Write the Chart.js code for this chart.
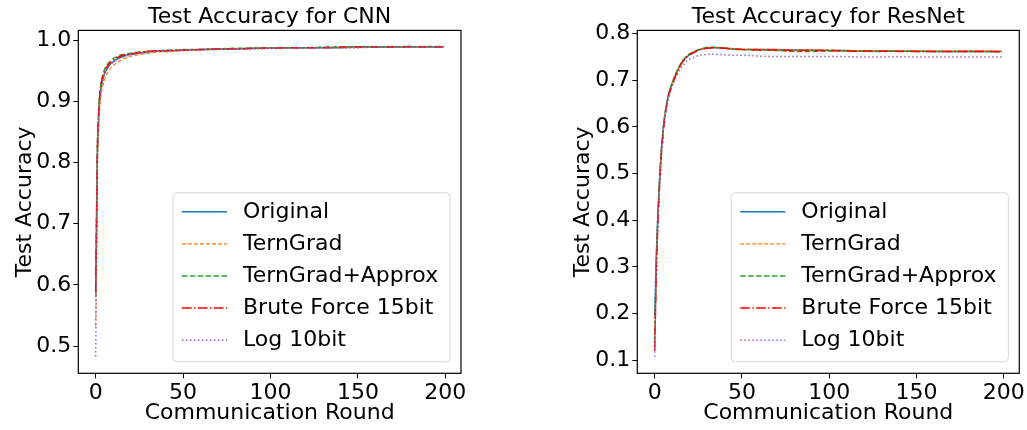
<!DOCTYPE html>
<html>
<head>
<meta charset="utf-8">
<script src="https://cdn.jsdelivr.net/npm/chart.js@4.4.1/dist/chart.umd.min.js"></script>
<style>
  html, body { margin: 0; padding: 0; background: #fff; }
  #wrap { position: relative; width: 1027px; height: 430px; }
  canvas { position: absolute; top: 0; }
  #cnnChart { left: 0; }
  #resnetChart { left: 513px; }
</style>
</head>
<body>
<div id="wrap">
  <canvas id="cnnChart" width="513" height="430"></canvas>
  <canvas id="resnetChart" width="514" height="430"></canvas>
</div>
<script>
const rounds = [0, 1, 2, 3, 4, 5, 6, 7, 8, 9, 10, 12, 14, 16, 18, 20, 25, 30, 35, 40, 45, 50,
    60, 70, 80, 90, 100, 110, 120, 130, 140, 150, 160, 170, 180, 190, 199];

const seriesNames = ['Original', 'TernGrad', 'TernGrad+Approx', 'Brute Force 15bit', 'Log 10bit'];

// CNN test accuracy
const cnnOriginal = [0.580, 0.820, 0.895, 0.922, 0.936, 0.945, 0.951, 0.956, 0.960, 0.963, 0.965, 0.969, 0.972, 0.974, 0.976, 0.977, 0.979, 0.981, 0.982, 0.983, 0.983, 0.984, 0.985, 0.986, 0.986, 0.987, 0.987, 0.988, 0.988, 0.988, 0.988, 0.989, 0.989, 0.989, 0.989, 0.989, 0.989];
const cnnTernGrad = [0.532, 0.800, 0.880, 0.910, 0.925, 0.935, 0.942, 0.948, 0.952, 0.956, 0.959, 0.963, 0.967, 0.970, 0.972, 0.974, 0.977, 0.979, 0.981, 0.981, 0.982, 0.983, 0.984, 0.985, 0.986, 0.986, 0.987, 0.987, 0.988, 0.988, 0.988, 0.988, 0.989, 0.989, 0.989, 0.989, 0.990];
const cnnApprox = [0.600, 0.840, 0.905, 0.930, 0.943, 0.952, 0.958, 0.962, 0.965, 0.968, 0.970, 0.973, 0.976, 0.977, 0.978, 0.979, 0.981, 0.982, 0.983, 0.984, 0.984, 0.985, 0.985, 0.986, 0.987, 0.987, 0.988, 0.988, 0.988, 0.989, 0.989, 0.989, 0.989, 0.990, 0.989, 0.990, 0.990];
const cnnBrute = [0.590, 0.830, 0.900, 0.927, 0.940, 0.948, 0.955, 0.959, 0.962, 0.965, 0.967, 0.971, 0.974, 0.976, 0.977, 0.978, 0.980, 0.982, 0.983, 0.983, 0.984, 0.984, 0.985, 0.986, 0.986, 0.987, 0.987, 0.988, 0.988, 0.988, 0.989, 0.989, 0.989, 0.989, 0.990, 0.989, 0.989];
const cnnLog = [0.483, 0.810, 0.890, 0.918, 0.933, 0.943, 0.950, 0.955, 0.959, 0.962, 0.964, 0.968, 0.971, 0.973, 0.975, 0.977, 0.979, 0.981, 0.982, 0.982, 0.983, 0.984, 0.985, 0.985, 0.986, 0.986, 0.987, 0.987, 0.988, 0.988, 0.988, 0.988, 0.989, 0.989, 0.989, 0.989, 0.989];

// ResNet test accuracy
const resOriginal = [0.190, 0.330, 0.430, 0.500, 0.560, 0.600, 0.630, 0.652, 0.670, 0.682, 0.693, 0.712, 0.728, 0.740, 0.749, 0.755, 0.765, 0.770, 0.770, 0.769, 0.768, 0.767, 0.766, 0.766, 0.765, 0.765, 0.764, 0.764, 0.763, 0.763, 0.763, 0.763, 0.762, 0.762, 0.762, 0.762, 0.762];
const resTernGrad = [0.150, 0.310, 0.420, 0.495, 0.555, 0.598, 0.628, 0.650, 0.668, 0.681, 0.692, 0.711, 0.727, 0.740, 0.750, 0.756, 0.766, 0.770, 0.771, 0.770, 0.768, 0.767, 0.767, 0.766, 0.765, 0.766, 0.765, 0.764, 0.764, 0.764, 0.763, 0.764, 0.763, 0.763, 0.764, 0.763, 0.763];
const resApprox = [0.140, 0.320, 0.425, 0.498, 0.558, 0.600, 0.631, 0.653, 0.671, 0.684, 0.695, 0.714, 0.730, 0.742, 0.751, 0.757, 0.766, 0.771, 0.771, 0.769, 0.767, 0.766, 0.765, 0.764, 0.762, 0.762, 0.763, 0.763, 0.762, 0.762, 0.763, 0.762, 0.762, 0.762, 0.762, 0.762, 0.762];
const resBrute = [0.120, 0.300, 0.410, 0.490, 0.550, 0.594, 0.625, 0.648, 0.667, 0.680, 0.691, 0.710, 0.727, 0.740, 0.749, 0.755, 0.765, 0.769, 0.770, 0.769, 0.767, 0.766, 0.765, 0.765, 0.764, 0.764, 0.764, 0.763, 0.763, 0.763, 0.762, 0.762, 0.762, 0.762, 0.762, 0.762, 0.761];
const resLog = [0.107, 0.310, 0.415, 0.490, 0.550, 0.594, 0.624, 0.646, 0.664, 0.676, 0.686, 0.704, 0.720, 0.731, 0.740, 0.746, 0.753, 0.756, 0.756, 0.755, 0.754, 0.754, 0.752, 0.751, 0.751, 0.751, 0.751, 0.751, 0.750, 0.750, 0.751, 0.750, 0.750, 0.750, 0.750, 0.750, 0.750];

// Tick labels
const xTicks = [0, 50, 100, 150, 200];
const cnnTicks = [0.5, 0.6, 0.7, 0.8, 0.9, 1.0];
const resTicks = [0.1, 0.2, 0.3, 0.4, 0.5, 0.6, 0.7, 0.8];

// Line styles (matplotlib look)
const seriesColors = ['#1f77b4', '#ff7f0e', '#2ca02c', '#ff0000', '#9467bd'];
const seriesDashes = [[], [4, 2], [5.5, 2.4], [9.6, 2.4, 1.5, 2.4], [1.5, 2.5]];
const seriesWidths = [1.5, 1.2, 1.5, 1.5, 1.5];

Chart.defaults.font.family = 'DejaVu Sans';
Chart.defaults.font.size = 22;
Chart.defaults.color = '#000';

// Black box round the plot area
const framePlugin = {
    id: 'frame',
    afterDatasetsDraw(chart) {
        const { ctx, chartArea: a } = chart;
        ctx.save();
        ctx.strokeStyle = '#000';
        ctx.lineWidth = 1.2;
        ctx.strokeRect(a.left, a.top, a.width, a.height);
        ctx.restore();
    }
};

// Legend box in the lower right corner of the plot
const legendPlugin = {
    id: 'boxLegend',
    afterDraw(chart) {
        const { ctx, chartArea: a } = chart;
        const w = 277, h = 169;
        const x = a.right - 11 - w;
        const y = a.bottom - 11.5 - h;
        ctx.save();
        ctx.beginPath();
        ctx.roundRect(x, y, w, h, 4);
        ctx.fillStyle = 'rgba(255,255,255,0.8)';
        ctx.fill();
        ctx.strokeStyle = '#d6d6d6';
        ctx.lineWidth = 1;
        ctx.stroke();
        chart.data.datasets.forEach((ds, i) => {
            const cy = y + 19 + i * 32.1;
            ctx.beginPath();
            ctx.setLineDash(ds.borderDash);
            ctx.strokeStyle = ds.borderColor;
            ctx.lineWidth = ds.borderWidth;
            ctx.moveTo(x + 9, cy);
            ctx.lineTo(x + 54, cy);
            ctx.stroke();
            ctx.setLineDash([]);
            ctx.fillStyle = '#000';
            ctx.font = '22px "DejaVu Sans"';
            ctx.textBaseline = 'middle';
            ctx.textAlign = 'left';
            ctx.fillText(ds.label, x + 70, cy);
        });
        ctx.restore();
    }
};

function makeChart(id, title, series, yMin, yMax, yTicks, padLeft, padRight, yWidth) {
    return new Chart(document.getElementById(id), {
        type: 'line',
        data: {
            datasets: series.map((vals, i) => ({
                label: seriesNames[i],
                data: rounds.map((r, j) => ({ x: r, y: vals[j] })),
                borderColor: seriesColors[i],
                borderWidth: seriesWidths[i],
                borderDash: seriesDashes[i],
                pointRadius: 0,
                tension: 0,
                fill: false,
                order: series.length - i
            }))
        },
        options: {
            responsive: false,
            animation: false,
            devicePixelRatio: 1,
            layout: { padding: { left: padLeft, right: padRight, top: 0, bottom: 0 } },
            plugins: {
                legend: { display: false },
                tooltip: { enabled: false },
                title: {
                    display: true,
                    text: title,
                    fullSize: false,
                    color: '#000',
                    font: { size: 22, weight: 'normal' },
                    padding: { top: 4, bottom: 0 }
                }
            },
            scales: {
                x: {
                    type: 'linear',
                    min: -9.95,
                    max: 208.95,
                    afterBuildTicks: s => { s.ticks = xTicks.map(v => ({ value: v })); },
                    afterFit: s => { s.height = 56.7; },
                    grid: { drawOnChartArea: false, drawTicks: true, tickLength: 5, color: '#000' },
                    border: { display: false },
                    ticks: { padding: 2, color: '#000', autoSkip: false, maxRotation: 0, callback: v => v },
                    title: { display: true, text: 'Communication Round', color: '#000', font: { size: 22 } }
                },
                y: {
                    type: 'linear',
                    min: yMin,
                    max: yMax,
                    afterBuildTicks: s => { s.ticks = yTicks.map(v => ({ value: v })); },
                    afterFit: s => { s.width = yWidth; },
                    grid: { drawOnChartArea: false, drawTicks: true, tickLength: 5, color: '#000' },
                    border: { display: false },
                    ticks: { padding: 2, color: '#000', autoSkip: false, callback: v => v.toFixed(1) },
                    title: { display: true, text: 'Test Accuracy', color: '#000', font: { size: 22 } }
                }
            }
        },
        plugins: [framePlugin, legendPlugin]
    });
}

makeChart('cnnChart', 'Test Accuracy for CNN',
    [cnnOriginal, cnnTernGrad, cnnApprox, cnnBrute, cnnLog],
    0.4554, 1.0163, cnnTicks, 7.8, 52, 70.5);

makeChart('resnetChart', 'Test Accuracy for ResNet',
    [resOriginal, resTernGrad, resApprox, resBrute, resLog],
    0.0715, 0.8072, resTicks, 52.8, 6.3, 71.5);
</script>
</body>
</html>
